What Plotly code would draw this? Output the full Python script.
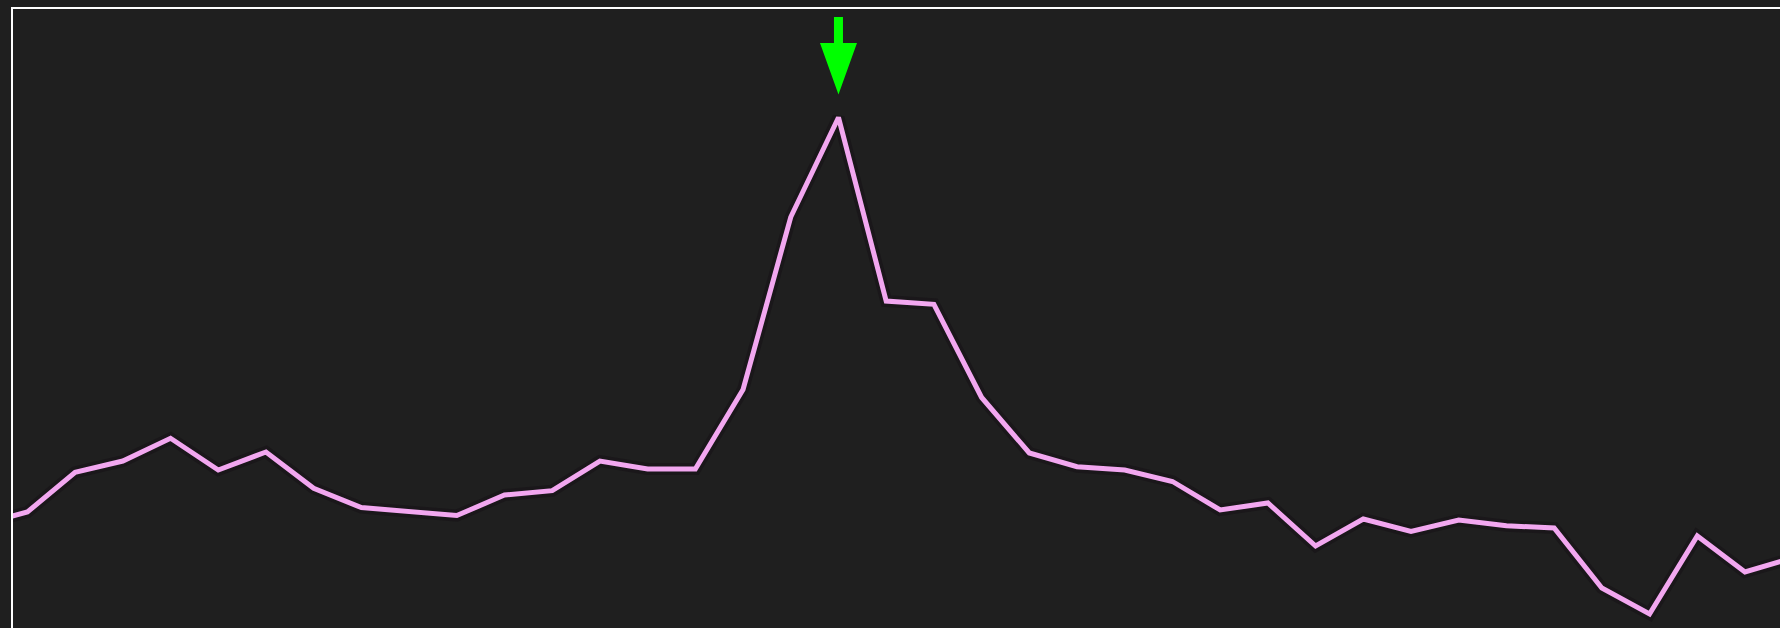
import plotly.graph_objects as go

# Sample index (first and last points lie just outside the visible frame)
x_index = list(range(0, 39))
# Series values (arbitrary units, 0-100 scale)
values = [16.67, 18.77, 25.18, 27.02, 30.70, 25.57, 28.48, 22.61, 19.48, 18.93,
          18.19, 21.52, 22.23, 27.02, 25.73, 25.73, 38.59, 66.50, 82.61, 52.91,
          52.38, 37.30, 28.32, 26.10, 25.57, 23.71, 19.09, 20.23, 13.27, 17.64,
          15.61, 17.48, 16.54, 16.18, 6.47, 2.27, 14.89, 9.06, 11.33]

BG = "#1f1f1f"
LINE = "#f2a7f0"
ARROW = "#00ff00"

peak_i = max(range(len(values)), key=lambda i: values[i])
peak_x, peak_y = x_index[peak_i], values[peak_i]

fig = go.Figure()
# soft dark halo under the line
fig.add_trace(go.Scatter(x=x_index, y=values, mode="lines",
                         line=dict(color="rgba(10,0,10,0.25)", width=12),
                         hoverinfo="skip", showlegend=False))
fig.add_trace(go.Scatter(x=x_index, y=values, mode="lines",
                         line=dict(color=LINE, width=5),
                         hoverinfo="skip", showlegend=False))

# green down arrow anchored above the peak (pixel-sized shape)
fig.add_shape(type="path", xref="x", yref="y",
              xsizemode="pixel", ysizemode="pixel",
              xanchor=peak_x, yanchor=peak_y,
              path="M -4.5,100.5 L 4.5,100.5 L 4.5,74.5 L 18.5,74.5 L 0,23 L -18.5,74.5 L -4.5,74.5 Z",
              fillcolor=ARROW, line=dict(width=0), layer="above")

fig.update_layout(
    width=1780, height=628,
    margin=dict(l=13, r=0, t=9, b=0),
    paper_bgcolor=BG, plot_bgcolor=BG,
    showlegend=False, hovermode=False,
    xaxis=dict(range=[0.698, 37.734], side="top", showline=True,
               linecolor="#ffffff", linewidth=2, showgrid=False,
               zeroline=False, showticklabels=False, ticks=""),
    yaxis=dict(range=[0, 100.16], showline=True, linecolor="#ffffff",
               linewidth=2, showgrid=False, zeroline=False,
               showticklabels=False, ticks=""),
)

fig.write_html(
    "out.html",
    config={"displayModeBar": False, "staticPlot": True},
    post_script="document.body.style.margin='0';"
                "document.body.style.overflow='hidden';"
                "document.body.style.background='#1f1f1f';",
)
